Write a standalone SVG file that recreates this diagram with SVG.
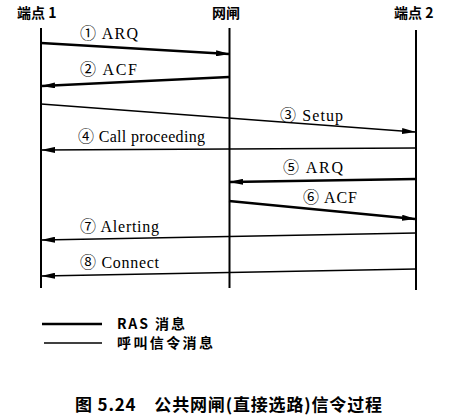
<svg xmlns="http://www.w3.org/2000/svg" width="450" height="419" viewBox="0 0 450 419">
<defs>
<style>
.hdr{font-family:"Noto Sans CJK SC","Liberation Sans",sans-serif;font-weight:bold;font-size:14px;fill:#000}
.lbl{font-family:"Liberation Serif","DejaVu Serif","Noto Sans CJK SC",serif;font-size:16px;fill:#000}
.leg{font-family:"Noto Sans CJK SC","Liberation Sans",sans-serif;font-weight:bold;font-size:14px;fill:#000}
.cap{font-family:"Noto Sans CJK SC","Liberation Sans",sans-serif;font-weight:bold;font-size:17px;fill:#000}
.life{stroke:#000;stroke-width:2;fill:none}
.ras{stroke:#000;stroke-width:2.6;fill:none}
.call{stroke:#000;stroke-width:1.3;fill:none}
</style>
<marker id="ah" markerUnits="userSpaceOnUse" markerWidth="14" markerHeight="6" refX="13" refY="3" orient="auto">
<path d="M0,0 L14,3 L0,6 z" fill="#000"/>
</marker>
</defs>
<rect width="450" height="419" fill="#fff"/>
<g id="ep1">
<text class="hdr" x="17" y="18">端点 1</text>
<line class="life" x1="41" y1="28" x2="41" y2="288"/>
</g>
<g id="gw">
<text class="hdr" x="212" y="18">网闸</text>
<line class="life" x1="229.5" y1="28" x2="229.5" y2="288"/>
</g>
<g id="ep2">
<text class="hdr" x="394" y="18">端点 2</text>
<line class="life" x1="416" y1="30" x2="416" y2="290"/>
</g>
<g id="connectors">
<line class="ras" x1="41" y1="43" x2="229" y2="54" marker-end="url(#ah)"/>
<line class="ras" x1="229" y1="77" x2="42" y2="86" marker-end="url(#ah)"/>
<line class="call" x1="41" y1="104" x2="415" y2="132" marker-end="url(#ah)"/>
<line class="call" x1="416" y1="148" x2="42" y2="150" marker-end="url(#ah)"/>
<line class="ras" x1="416" y1="179" x2="230" y2="182" marker-end="url(#ah)"/>
<line class="ras" x1="229" y1="201" x2="415" y2="219" marker-end="url(#ah)"/>
<line class="call" x1="416" y1="233" x2="42" y2="240" marker-end="url(#ah)"/>
<line class="call" x1="416" y1="269" x2="42" y2="276" marker-end="url(#ah)"/>
</g>
<g id="labels">
<text class="lbl" x="80" y="39" textLength="58" lengthAdjust="spacing">① ARQ</text>
<text class="lbl" x="80" y="75" textLength="57" lengthAdjust="spacing">② ACF</text>
<text class="lbl" x="280" y="121" textLength="63" lengthAdjust="spacing">③ Setup</text>
<text class="lbl" x="78" y="142" textLength="127" lengthAdjust="spacing">④ Call proceeding</text>
<text class="lbl" x="283" y="173" textLength="60" lengthAdjust="spacing">⑤ ARQ</text>
<text class="lbl" x="303" y="203" textLength="54" lengthAdjust="spacing">⑥ ACF</text>
<text class="lbl" x="80" y="232" textLength="79" lengthAdjust="spacing">⑦ Alerting</text>
<text class="lbl" x="80" y="268" textLength="79" lengthAdjust="spacing">⑧ Connect</text>
</g>
<g id="legend">
<line class="ras" x1="42" y1="324" x2="102" y2="324"/>
<text class="leg" x="117" y="329" textLength="68" lengthAdjust="spacing">RAS 消息</text>
<line class="call" x1="44" y1="343" x2="102" y2="343"/>
<text class="leg" x="117" y="348" textLength="96" lengthAdjust="spacing">呼叫信令消息</text>
</g>
<text class="cap" x="75" y="411" textLength="307" lengthAdjust="spacing">图 5.24　公共网闸(直接选路)信令过程</text>
</svg>
